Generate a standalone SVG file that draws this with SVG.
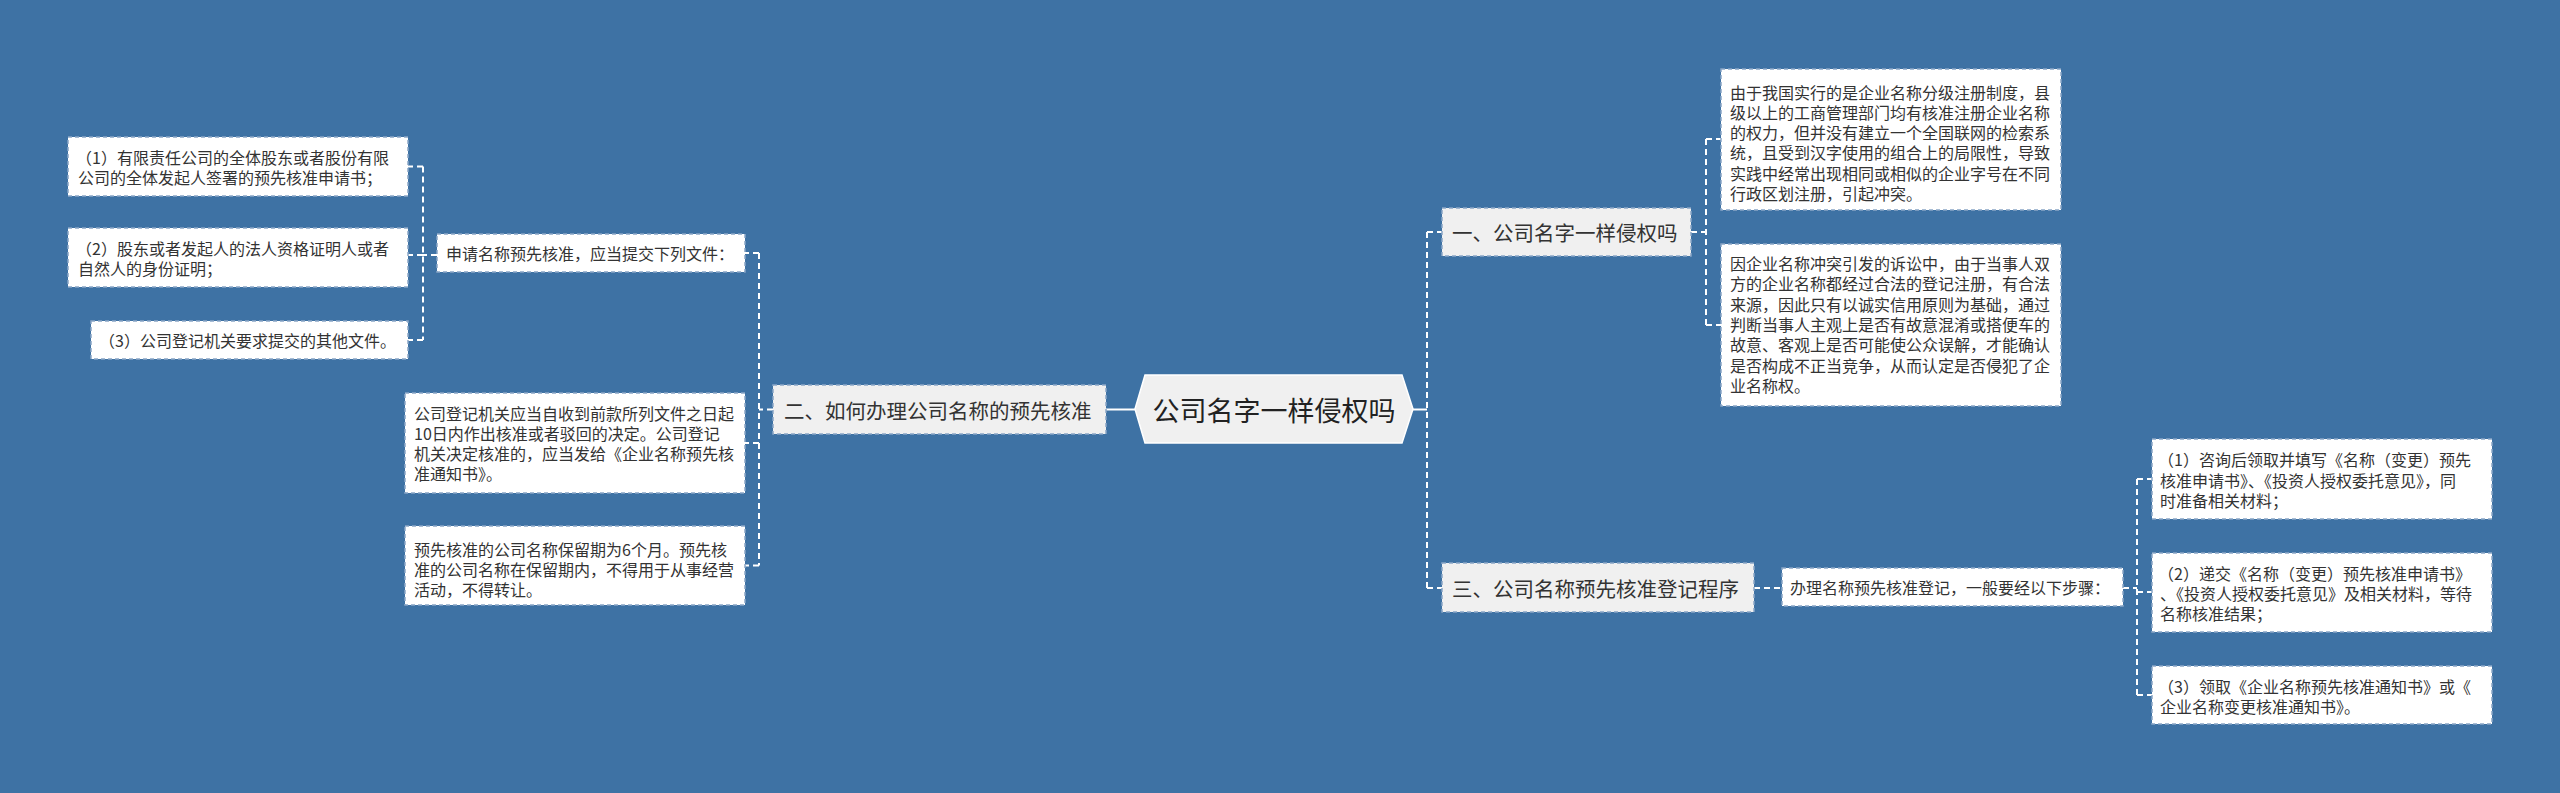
<svg xmlns="http://www.w3.org/2000/svg" width="2560" height="793" viewBox="0 0 2560 793">
<style>
.bg{fill:#3e72a4}
.leaf{fill:#ffffff;stroke:#8aa6c6;stroke-width:1.5;stroke-dasharray:4 3}
.sub{fill:#f0f0f0;stroke:#8aa6c6;stroke-width:1.5;stroke-dasharray:4 3}
.t{font-family:"Noto Sans CJK SC","Noto Sans",sans-serif;fill:#333333;font-size:16px;dominant-baseline:central}
.t2{font-family:"Noto Sans CJK SC","Noto Sans",sans-serif;fill:#333333;font-size:20.5px;dominant-baseline:central}
.t3{font-family:"Noto Sans CJK SC","Noto Sans",sans-serif;fill:#222222;font-size:27px;dominant-baseline:central;text-anchor:middle}
.c{fill:none;stroke:#ffffff;stroke-width:2;stroke-dasharray:6 4}
.cs{fill:none;stroke:#ffffff;stroke-width:2}
</style>
<rect class="bg" x="0" y="0" width="2560" height="793"/>
<g id="connectors">
<path class="cs" d="M1106 409.5H1135"/>
<path class="cs" d="M1413 409.5H1427"/>
<path class="c" d="M1427 232V588"/>
<path class="c" d="M1427 232H1442M1427 588H1442"/>
<path class="c" d="M1691 232H1706M1706 139V325M1706 139H1721M1706 325H1721"/>
<path class="c" d="M1754 588H1782"/>
<path class="c" d="M2123 588H2137M2137 479V695M2137 479H2152M2137 592H2152M2137 695H2152"/>
<path class="c" d="M773 409.5H759M759 253V565.5M759 253H745M759 443H745M759 565.5H745"/>
<path class="c" d="M437 255H423M423 166.5V340M423 166.5H408M423 255H408M423 340H408"/>
</g>
<g id="center">
<polygon points="1135,409 1145,375 1402,375 1413,409 1402,443 1145,443" fill="#f0f0f0" stroke="#ffffff" stroke-width="1.5"/>
<text class="t3" x="1274" y="409">公司名字一样侵权吗</text>
</g>
<g id="n2">
<rect class="sub" x="773" y="385" width="333" height="49"/>
<text class="t2" x="784" y="409.5">二、如何办理公司名称的预先核准</text>
</g>
<g id="n2a">
<rect class="leaf" x="437" y="234" width="308" height="38"/>
<text class="t" x="446" y="253">申请名称预先核准，应当提交下列文件：</text>
</g>
<g id="n2a1">
<rect class="leaf" x="68" y="137" width="340" height="59"/>
<text class="t" x="76" y="157">（1）有限责任公司的全体股东或者股份有限</text>
<text class="t" x="78" y="177">公司的全体发起人签署的预先核准申请书；</text>
</g>
<g id="n2a2">
<rect class="leaf" x="68" y="228" width="340" height="59"/>
<text class="t" x="76" y="248">（2）股东或者发起人的法人资格证明人或者</text>
<text class="t" x="78" y="268">自然人的身份证明；</text>
</g>
<g id="n2a3">
<rect class="leaf" x="91" y="321" width="317" height="38"/>
<text class="t" x="99" y="340">（3）公司登记机关要求提交的其他文件。</text>
</g>
<g id="n2b">
<rect class="leaf" x="405" y="393" width="340" height="100"/>
<text class="t" x="414" y="413">公司登记机关应当自收到前款所列文件之日起</text>
<text class="t" x="414" y="433">10日内作出核准或者驳回的决定。公司登记</text>
<text class="t" x="414" y="453">机关决定核准的，应当发给《企业名称预先核</text>
<text class="t" x="414" y="473">准通知书》。</text>
</g>
<g id="n2c">
<rect class="leaf" x="405" y="526" width="340" height="79"/>
<text class="t" x="414" y="549">预先核准的公司名称保留期为6个月。预先核</text>
<text class="t" x="414" y="569">准的公司名称在保留期内，不得用于从事经营</text>
<text class="t" x="414" y="589">活动，不得转让。</text>
</g>
<g id="n1">
<rect class="sub" x="1442" y="208" width="249" height="48"/>
<text class="t2" x="1452" y="232">一、公司名字一样侵权吗</text>
</g>
<g id="n1a">
<rect class="leaf" x="1721" y="69" width="340" height="141"/>
<text class="t" x="1730" y="91.5">由于我国实行的是企业名称分级注册制度，县</text>
<text class="t" x="1730" y="111.8">级以上的工商管理部门均有核准注册企业名称</text>
<text class="t" x="1730" y="132.1">的权力，但并没有建立一个全国联网的检索系</text>
<text class="t" x="1730" y="152.4">统，且受到汉字使用的组合上的局限性，导致</text>
<text class="t" x="1730" y="172.7">实践中经常出现相同或相似的企业字号在不同</text>
<text class="t" x="1730" y="193">行政区划注册，引起冲突。</text>
</g>
<g id="n1b">
<rect class="leaf" x="1721" y="244" width="340" height="162"/>
<text class="t" x="1730" y="263">因企业名称冲突引发的诉讼中，由于当事人双</text>
<text class="t" x="1730" y="283.3">方的企业名称都经过合法的登记注册，有合法</text>
<text class="t" x="1730" y="303.6">来源，因此只有以诚实信用原则为基础，通过</text>
<text class="t" x="1730" y="323.9">判断当事人主观上是否有故意混淆或搭便车的</text>
<text class="t" x="1730" y="344.2">故意、客观上是否可能使公众误解，才能确认</text>
<text class="t" x="1730" y="364.5">是否构成不正当竞争，从而认定是否侵犯了企</text>
<text class="t" x="1730" y="384.8">业名称权。</text>
</g>
<g id="n3">
<rect class="sub" x="1442" y="563" width="312" height="49"/>
<text class="t2" x="1452" y="587.5">三、公司名称预先核准登记程序</text>
</g>
<g id="n3a">
<rect class="leaf" x="1782" y="568" width="341" height="38"/>
<text class="t" x="1790" y="587">办理名称预先核准登记，一般要经以下步骤：</text>
</g>
<g id="n3a1">
<rect class="leaf" x="2152" y="439" width="340" height="80"/>
<text class="t" x="2158" y="459">（1）咨询后领取并填写《名称（变更）预先</text>
<text class="t" x="2160" y="479.5">核准申请书》、《投资人授权委托意见》，同</text>
<text class="t" x="2160" y="500">时准备相关材料；</text>
</g>
<g id="n3a2">
<rect class="leaf" x="2152" y="553" width="340" height="79"/>
<text class="t" x="2158" y="573">（2）递交《名称（变更）预先核准申请书》</text>
<text class="t" x="2160" y="593">、《投资人授权委托意见》及相关材料，等待</text>
<text class="t" x="2160" y="613">名称核准结果；</text>
</g>
<g id="n3a3">
<rect class="leaf" x="2152" y="666" width="340" height="58"/>
<text class="t" x="2158" y="686">（3）领取《企业名称预先核准通知书》或《</text>
<text class="t" x="2160" y="706">企业名称变更核准通知书》。</text>
</g>
</svg>
